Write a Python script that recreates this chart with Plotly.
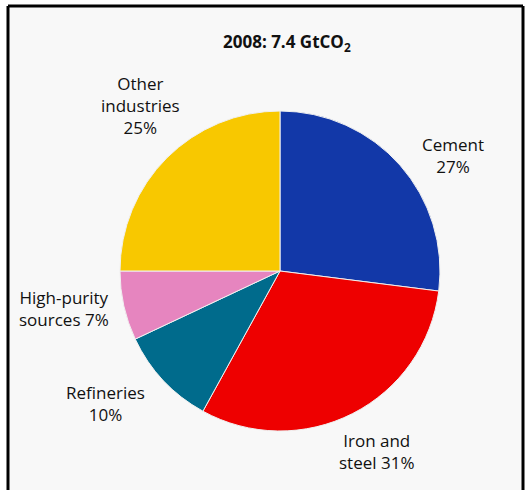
import plotly.graph_objects as go

W, H = 531, 490

# Industrial CO2 emissions by source, 2008
sources = ["Cement", "Iron and steel", "Refineries", "High-purity sources", "Other industries"]
shares = [27, 31, 10, 7, 25]
colors = ["#1238a8", "#ee0000", "#006b8c", "#e685bf", "#f8c800"]
label_texts = ["Cement<br>27%", "Iron and<br>steel 31%", "Refineries<br>10%",
               "High-purity<br>sources 7%", "Other<br>industries<br>25%"]
title_text = "2008: 7.4 GtCO<sub>2</sub>"

# label anchor points in pixels (centre of each text block)
label_pos = [(453, 155), (376, 451), (105, 403), (64, 308), (140, 105)]


def px(x, y):
    return x / W, 1 - y / H


cx, cy, r = 280, 271, 160
x0, y0 = px(cx - r, cy + r)
x1, y1 = px(cx + r, cy - r)

fig = go.Figure(go.Pie(
    labels=sources,
    values=shares,
    marker=dict(colors=colors, line=dict(color="#f0f0f0", width=1)),
    sort=False,
    direction="clockwise",
    rotation=0,
    textinfo="none",
    hoverinfo="label+percent",
    domain=dict(x=[x0, x1], y=[y0, y1]),
    showlegend=False,
))

font = dict(family="Open Sans, sans-serif", size=17, color="#111111")
annotations = []
for txt, (lx, ly) in zip(label_texts, label_pos):
    ax, ay = px(lx, ly)
    annotations.append(dict(text=txt, x=ax, y=ay, xref="paper", yref="paper",
                            xanchor="center", yanchor="middle", showarrow=False,
                            align="center", font=font))
tx, ty = px(287, 42)
annotations.append(dict(text="<b>" + title_text + "</b>", x=tx, y=ty, xref="paper", yref="paper",
                        xanchor="center", yanchor="middle", showarrow=False,
                        font=dict(family="Open Sans, sans-serif", size=17, color="#111111")))

# panel background and frame (left, top, right edges)
bl, bt, br = 8, 6, 523
shapes = [
    dict(type="rect", xref="paper", yref="paper", layer="below",
         x0=bl / W, x1=br / W, y0=0, y1=1 - bt / H,
         fillcolor="#f8f8f8", line=dict(width=0)),
    dict(type="line", xref="paper", yref="paper", x0=bl / W, x1=bl / W, y0=0, y1=1 - bt / H,
         line=dict(color="black", width=3)),
    dict(type="line", xref="paper", yref="paper", x0=bl / W, x1=br / W, y0=1 - bt / H, y1=1 - bt / H,
         line=dict(color="black", width=3)),
    dict(type="line", xref="paper", yref="paper", x0=br / W, x1=br / W, y0=0, y1=1 - bt / H,
         line=dict(color="black", width=3)),
]

fig.update_layout(
    width=W, height=H,
    margin=dict(l=0, r=0, t=0, b=0),
    paper_bgcolor="white",
    plot_bgcolor="white",
    annotations=annotations,
    shapes=shapes,
)

fig.write_html("out.html")
